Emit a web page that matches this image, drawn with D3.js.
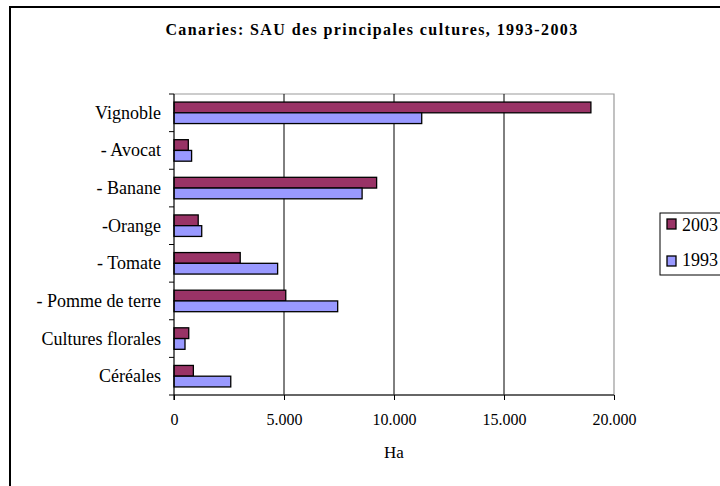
<!DOCTYPE html>
<html><head><meta charset="utf-8">
<script src="https://cdn.jsdelivr.net/npm/d3@7"></script>
<style>body{margin:0;background:#fff}svg{display:block}text{font-family:"Liberation Serif","Times New Roman",serif;fill:#000}</style>
</head><body><svg id="c" width="720" height="486"></svg>
<script>
const categories = ["Vignoble","- Avocat","- Banane","-Orange","- Tomate","- Pomme de terre","Cultures florales","Céréales"];
const series = ["2003","1993"];
const values2003 = [18950, 650, 9210, 1100, 3010, 5080, 670, 880];
const values1993 = [11260, 800, 8550, 1260, 4710, 7440, 500, 2580];
const xTicks = [0, 5000, 10000, 15000, 20000];
const colors = {"2003":"#993366","1993":"#9999FF"};

const svg = d3.select("#c");
svg.append("rect").attr("x",10).attr("y",7).attr("width",760).attr("height",520).attr("fill","#fff").attr("stroke","#000").attr("stroke-width",2);

const L=174,R=614,T=94,B=395;
const x = d3.scaleLinear().domain([0,20000]).range([L,R]);
const y = d3.scaleBand().domain(categories).range([T,B]);
const ys = d3.scaleBand().domain(series).range([0,y.bandwidth()]).paddingOuter(0.75);
const fmt = d => d3.format(",")(d).replace(/,/g,".");

// plot frame
svg.append("path").attr("d",`M${L},${T}H${R}V${B}`).attr("fill","none").attr("stroke","#999").attr("stroke-width",1.2);
// gridlines
svg.append("g").selectAll("line").data(xTicks.filter(d=>d>0&&d<20000)).join("line")
  .attr("x1",d=>x(d)).attr("x2",d=>x(d)).attr("y1",T).attr("y2",B).attr("stroke","#000").attr("stroke-width",1);

// bars
const data = categories.map((c,i)=>({c, v:{"2003":values2003[i],"1993":values1993[i]}}));
const g = svg.append("g");
data.forEach(d=>{
  series.forEach(s=>{
    g.append("rect").attr("x",x(0)).attr("y",y(d.c)+ys(s))
      .attr("width",x(d.v[s])-x(0)).attr("height",ys.bandwidth())
      .attr("fill",colors[s]).attr("stroke","#000").attr("stroke-width",1.3);
  });
});

// x axis
const xa = svg.append("g").attr("transform",`translate(0,${B})`)
  .call(d3.axisBottom(x).tickValues(xTicks).tickFormat(fmt).tickSize(5).tickPadding(14));
xa.select(".domain").attr("stroke","#333").attr("stroke-width",1.5).attr("d",`M${L},0H${R}`);
xa.selectAll(".tick line").attr("stroke","#000");
xa.selectAll("text").style("font-size","16px").style("font-family","Liberation Serif");

// y axis with ticks at boundaries
svg.append("line").attr("x1",L).attr("x2",L).attr("y1",T).attr("y2",B+5).attr("stroke","#000").attr("stroke-width",1.2);
const bounds = categories.map(c=>y(c)).concat([B]);
svg.append("g").selectAll("line").data(bounds).join("line")
  .attr("x1",L-5).attr("x2",L).attr("y1",d=>d).attr("y2",d=>d).attr("stroke","#000");
svg.append("g").selectAll("text").data(categories).join("text")
  .attr("x",L-13).attr("y",d=>y(d)+y.bandwidth()/2+6).attr("text-anchor","end")
  .style("font-size","18px").text(d=>d);

// title
svg.append("text").attr("x",372).attr("y",35).attr("text-anchor","middle")
  .style("font-size","16px").style("font-weight","bold").style("letter-spacing","1.4px")
  .text("Canaries: SAU des principales cultures, 1993-2003");
// axis title
svg.append("text").attr("x",394).attr("y",458).attr("text-anchor","middle").style("font-size","17px").text("Ha");

// legend
const lg = svg.append("g");
lg.append("rect").attr("x",660).attr("y",213).attr("width",80).attr("height",62).attr("fill","#fff").attr("stroke","#000").attr("stroke-width",1);
series.forEach((s,i)=>{
  lg.append("rect").attr("x",667).attr("y",219+i*37).attr("width",9).attr("height",10)
    .attr("fill",colors[s]).attr("stroke","#000").attr("stroke-width",1.3);
  lg.append("text").attr("x",682).attr("y",231+i*35).style("font-size","18px").text(s);
});
</script></body></html>
